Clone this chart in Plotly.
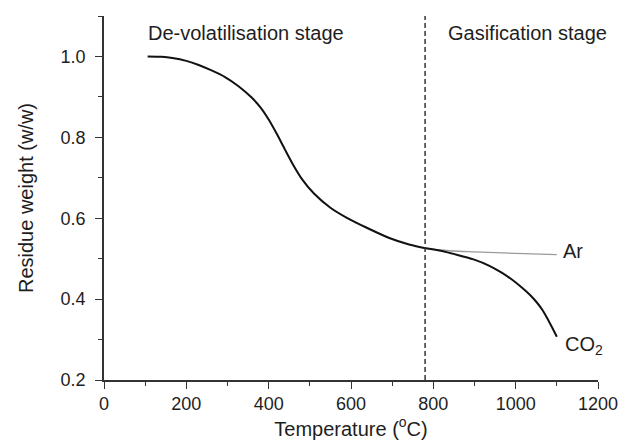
import plotly.graph_objects as go

# CO2 atmosphere curve (temperature in °C, residue weight w/w)
co2_temp = [106, 140, 166, 200, 230, 260, 294, 326, 358, 380, 400, 420, 440, 460,
            480, 510, 550, 590, 637, 693, 741, 781, 805, 837, 870, 901, 935, 965,
            990, 1012, 1035, 1052, 1065, 1076, 1088, 1100]
co2_weight = [1.000, 0.999, 0.996, 0.989, 0.979, 0.966, 0.949, 0.927, 0.899, 0.874,
              0.844, 0.808, 0.769, 0.731, 0.698, 0.661, 0.626, 0.601, 0.577, 0.551,
              0.535, 0.526, 0.522, 0.515, 0.506, 0.497, 0.483, 0.466, 0.449, 0.431,
              0.410, 0.391, 0.373, 0.354, 0.331, 0.307]

# Ar atmosphere curve (gasification stage part)
ar_temp = [781, 810, 850, 900, 1000, 1100]
ar_weight = [0.526, 0.522, 0.519, 0.517, 0.513, 0.510]

stage_boundary = 780
x_ticks = [0, 200, 400, 600, 800, 1000, 1200]
y_ticks = [0.2, 0.4, 0.6, 0.8, 1.0]

font = "Liberation Sans, Arial, sans-serif"
txt = "#1e1e1e"

fig = go.Figure()
fig.add_trace(go.Scatter(x=ar_temp, y=ar_weight, mode="lines",
                         line=dict(color="#9a9a9a", width=1.3, shape="spline", smoothing=0.6),
                         showlegend=False, hoverinfo="skip"))
fig.add_trace(go.Scatter(x=co2_temp, y=co2_weight, mode="lines",
                         line=dict(color="#111111", width=2, shape="spline", smoothing=0.6),
                         showlegend=False, hoverinfo="skip"))

fig.add_shape(type="line", x0=stage_boundary, x1=stage_boundary, y0=0.2, y1=1.1,
              xref="x", yref="y", line=dict(color="#333333", width=1.5, dash="5px,3px"))

ann_font = dict(family=font, size=20, color=txt)
fig.add_annotation(x=103, y=1.057, text="De-volatilisation stage", showarrow=False,
                   xanchor="left", yanchor="middle", font=ann_font)
fig.add_annotation(x=830, y=1.057, text="Gasification stage", showarrow=False,
                   xanchor="left", yanchor="middle", font=ann_font)
fig.add_annotation(x=1109, y=0.519, text="Ar", showarrow=False,
                   xanchor="left", yanchor="middle", font=ann_font)
fig.add_annotation(x=1114, y=0.285, text="CO<sub>2</sub>", showarrow=False,
                   xanchor="left", yanchor="middle", font=ann_font)

axis_common = dict(showline=True, linecolor="#333333", linewidth=1.6, mirror=False,
                   showgrid=False, zeroline=False, ticks="outside", ticklen=7,
                   tickwidth=1.4, tickcolor="#333333",
                   tickfont=dict(family=font, size=18, color=txt))

fig.update_xaxes(range=[0, 1200], tickvals=x_ticks, **axis_common,
                 minor=dict(ticks="outside", ticklen=4, dtick=100, tick0=0,
                            tickcolor="#333333", tickwidth=1.3),
                 title=dict(text="Temperature (<sup>o</sup>C)", standoff=4,
                            font=dict(family=font, size=20, color=txt)))
fig.update_yaxes(range=[0.2, 1.1], tickvals=y_ticks, tickformat=".1f", **axis_common,
                 ticklabelstandoff=6,
                 minor=dict(ticks="outside", ticklen=4, dtick=0.1, tick0=0.2,
                            tickcolor="#333333", tickwidth=1.3),
                 title=dict(text="Residue weight (w/w)", standoff=22,
                            font=dict(family=font, size=20, color=txt)))

fig.update_layout(width=630, height=444, margin=dict(l=104, r=25, t=16, b=64),
                  paper_bgcolor="white", plot_bgcolor="white", showlegend=False)

fig.write_html("out.html")
